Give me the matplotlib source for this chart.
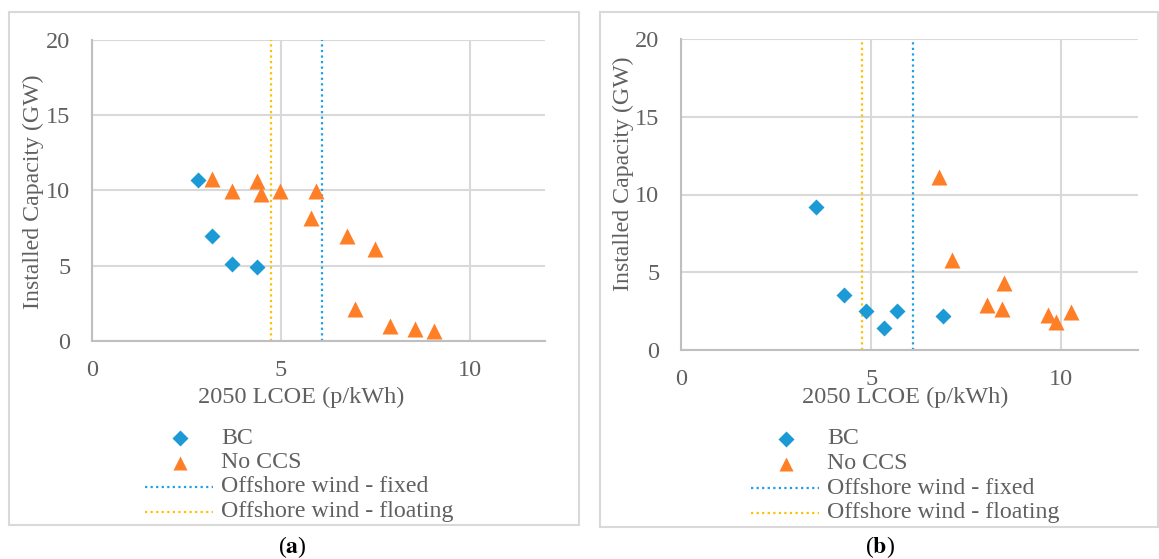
import matplotlib
matplotlib.use("Agg")
import matplotlib.pyplot as plt
from matplotlib.lines import Line2D
from matplotlib.patches import Rectangle

# panel (a)
a_bc_x = [2.80, 3.19, 3.71, 4.37]
a_bc_y = [10.69, 6.98, 5.10, 4.92]
a_nc_x = [3.19, 3.71, 4.36, 4.47, 4.99, 5.93, 5.81, 6.76, 7.49, 6.97, 7.90, 8.56, 9.07]
a_nc_y = [10.75, 9.98, 10.62, 9.76, 9.98, 9.98, 8.18, 6.96, 6.08, 2.08, 0.98, 0.75, 0.67]
a_fixed = 6.09
a_floating = 4.75

# panel (b)
b_bc_x = [3.55, 4.28, 4.85, 5.34, 5.67, 6.90]
b_bc_y = [9.17, 3.52, 2.51, 1.44, 2.53, 2.19]
b_nc_x = [6.79, 7.13, 8.49, 8.05, 8.44, 9.64, 9.85, 10.24]
b_nc_y = [11.15, 5.79, 4.33, 2.87, 2.64, 2.25, 1.82, 2.44]
b_fixed = 6.11
b_floating = 4.75

x_ticks = [0, 5, 10]
y_ticks = [0, 5, 10, 15, 20]
labels = ["BC", "No CCS", "Offshore wind - fixed", "Offshore wind - floating"]

BLUE = "#1b9ad6"
ORANGE = "#ff7f27"
FIXED = "#1ea0e6"
FLOAT = "#ffc000"
GRID = "#d9d9d9"
AXIS = "#bfbfbf"
TXT = "#606060"
FS = 17.5
DOTS = (0, (1, 1.5))

plt.rcParams["font.family"] = ["Liberation Serif", "DejaVu Serif"]
plt.rcParams["mathtext.fontset"] = "stix"

W, H = 1159, 559
fig = plt.figure(figsize=(W / 100, H / 100), dpi=100)


def fx(x):
    return x / W


def fy(y):
    return 1 - y / H


def panel(box, bcx, bcy, ncx, ncy, fixed, floating, xlab_pos, ylab_pos):
    x0, y0, x1, y1 = box
    ax = fig.add_axes([fx(x0), fy(y1), (x1 - x0) / W, (y1 - y0) / H])
    ax.set_xlim(0, 12)
    ax.set_ylim(0, 20)
    ax.set_xticks(x_ticks)
    ax.set_yticks(y_ticks)
    ax.grid(True, color=GRID, lw=1.5, zorder=0)
    ax.set_axisbelow(True)
    for s in ["top", "right"]:
        ax.spines[s].set_visible(False)
    for s in ["bottom", "left"]:
        ax.spines[s].set_color(AXIS)
        ax.spines[s].set_linewidth(1.5)
    ax.tick_params(length=0, labelsize=FS, labelcolor=TXT)
    ax.tick_params(axis="x", pad=14)
    ax.tick_params(axis="y", pad=15.5)

    ax.axvline(fixed, color=FIXED, lw=1.6, ls=DOTS, zorder=2)
    ax.axvline(floating, color=FLOAT, lw=1.6, ls=DOTS, zorder=2)
    ax.plot(bcx, bcy, "D", ms=8.2, color=BLUE, mec="none", zorder=3)
    ax.plot(ncx, ncy, "^", ms=11, color=ORANGE, mec="none", zorder=3)

    ax.set_xlabel("2050 LCOE (p/kWh)", fontsize=FS, color=TXT)
    ax.set_ylabel("Installed Capacity (GW)", fontsize=17.2, color=TXT)
    ax.xaxis.set_label_coords(*xlab_pos)
    ax.yaxis.set_label_coords(*ylab_pos)
    return ax


def legend(x_left, y_top):
    # Excel style legend: handle 68 px wide, rows 24.5 px apart
    styles = [
        dict(ls="none", marker="D", ms=8.2, color=BLUE, mec="none"),
        dict(ls="none", marker="^", ms=10.5, color=ORANGE, mec="none"),
        dict(color=FIXED, lw=1.6, ls=DOTS),
        dict(color=FLOAT, lw=1.6, ls=DOTS),
    ]
    for i, (lab, st) in enumerate(zip(labels, styles)):
        y = y_top + i * 24.5
        if st.get("marker"):
            xs = [fx(x_left + 35)]
        else:
            xs = [fx(x_left), fx(x_left + 68)]
        fig.add_artist(Line2D(xs, [fy(y)] * len(xs), transform=fig.transFigure, **st))
        fig.text(fx(x_left + 76), fy(y), lab, ha="left", va="center",
                 fontsize=17.2, color=TXT)


# frames round each panel
for x0, y0, x1, y1 in [(9, 12, 579, 525), (600, 12, 1158, 527)]:
    fig.add_artist(Rectangle((fx(x0), fy(y1)), (x1 - x0) / W, (y1 - y0) / H,
                             transform=fig.transFigure, fill=False,
                             ec=GRID, lw=1.5))

panel((92, 40, 545, 340.7), a_bc_x, a_bc_y, a_nc_x, a_nc_y, a_fixed, a_floating,
      (0.461, -0.154), (-0.106, 0.4955))
panel((681, 39, 1137.5, 350), b_bc_x, b_bc_y, b_nc_x, b_nc_y, b_fixed,
      b_floating, (0.492, -0.119), (-0.104, 0.568))

legend(145, 438)
legend(751, 439)

fig.text(fx(292), fy(547), r"($\mathbf{a}$)", ha="center", va="center",
         fontsize=17, color="black")
fig.text(fx(880), fy(547), r"($\mathbf{b}$)", ha="center", va="center",
         fontsize=17, color="black")

fig.savefig("out.png", dpi=100)
